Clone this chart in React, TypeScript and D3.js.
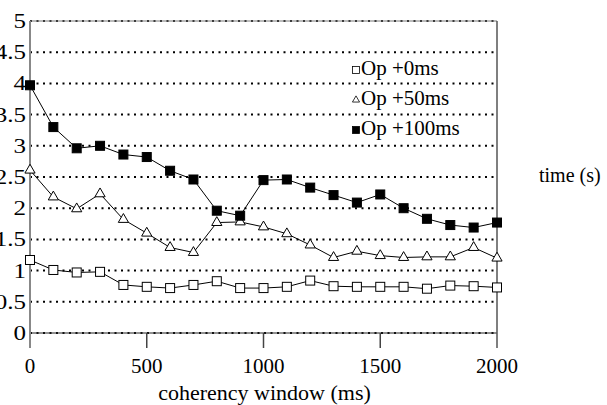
import { useEffect, useRef } from 'react';
import * as d3 from 'd3';

const W = 607
const H = 405
const margin = { top: 21, right: 110, bottom: 72, left: 30 }
const width = W - margin.left - margin.right
const height = H - margin.top - margin.bottom

const windows = d3.range(0, 2001, 100)
const op0 = [1.17, 1.01, 0.97, 0.98, 0.77, 0.74, 0.72, 0.77, 0.83, 0.72, 0.72, 0.74, 0.84, 0.75, 0.74, 0.74, 0.74, 0.71, 0.76, 0.75, 0.73]
const op50 = [2.61, 2.18, 1.99, 2.23, 1.82, 1.6, 1.37, 1.29, 1.77, 1.78, 1.7, 1.59, 1.41, 1.21, 1.31, 1.24, 1.21, 1.22, 1.22, 1.37, 1.2]
const op100 = [3.97, 3.3, 2.96, 3.0, 2.86, 2.82, 2.6, 2.46, 1.96, 1.88, 2.45, 2.46, 2.33, 2.21, 2.09, 2.22, 2.0, 1.83, 1.73, 1.69, 1.77]
const yTicks = [0, 0.5, 1, 1.5, 2, 2.5, 3, 3.5, 4, 4.5, 5]
const xTicks = [0, 500, 1000, 1500, 2000]
const legendLabels = ['Op +0ms', 'Op +50ms', 'Op +100ms']

const font = 'Liberation Serif, serif'

const App = () => {
  const ref = useRef(null)

  useEffect(() => {
    if (!ref.current) return
    const root = d3.select(ref.current)
    root.selectAll('*').remove()

    const x = d3.scaleLinear().domain([0, 2000]).range([0, width])
    const y = d3.scaleLinear().domain([0, 5]).range([height, 0])

    const svg = root.append('g')
      .attr('transform', `translate(${margin.left},${margin.top})`)
      .attr('font-family', font)

    // dotted gridlines
    svg.selectAll('.grid')
      .data(yTicks)
      .enter()
      .append('line')
      .attr('x1', 0)
      .attr('x2', width)
      .attr('y1', d => y(d))
      .attr('y2', d => y(d))
      .attr('stroke', '#000')
      .attr('stroke-width', 2)
      .attr('stroke-dasharray', '2 4.5')

    // top and bottom solid lines
    svg.append('line').attr('x1', 0).attr('x2', width).attr('y1', y(5)).attr('y2', y(5))
      .attr('stroke', '#777').attr('stroke-width', 1)
    svg.append('line').attr('x1', 0).attr('x2', width).attr('y1', y(0)).attr('y2', y(0))
      .attr('stroke', '#222').attr('stroke-width', 1)

    // left and right vertical lines
    svg.append('line').attr('x1', 0).attr('x2', 0).attr('y1', 0).attr('y2', height + 15)
      .attr('stroke', '#888').attr('stroke-width', 2)
    svg.append('line').attr('x1', width).attr('x2', width).attr('y1', 0).attr('y2', height + 15)
      .attr('stroke', '#555').attr('stroke-width', 1.5)

    // x ticks
    svg.selectAll('.xt')
      .data(xTicks.slice(1, -1))
      .enter()
      .append('line')
      .attr('x1', d => x(d))
      .attr('x2', d => x(d))
      .attr('y1', height)
      .attr('y2', height + 15)
      .attr('stroke', '#444')
      .attr('stroke-width', 1.5)

    svg.selectAll('.xl')
      .data(xTicks)
      .enter()
      .append('text')
      .attr('x', d => x(d))
      .attr('y', height + 40)
      .attr('text-anchor', 'middle')
      .attr('font-size', 21)
      .text(d => d)

    // y labels come out wider than tall in the original
    svg.selectAll('.yl')
      .data(yTicks)
      .enter()
      .append('text')
      .attr('transform', d => `translate(-4,${y(d) + 7}) scale(1.25,1)`)
      .attr('text-anchor', 'end')
      .attr('font-size', 20)
      .text(d => d)

    svg.append('text')
      .attr('x', width / 2 + 1)
      .attr('y', height + 67)
      .attr('text-anchor', 'middle')
      .attr('font-size', 22)
      .text('coherency window (ms)')

    svg.append('text')
      .attr('x', width + 42)
      .attr('y', 161)
      .attr('font-size', 20)
      .text('time (s)')

    const line = d3.line<number>()
      .x((_, i) => x(windows[i]))
      .y(d => y(d))

    const tri = d3.symbol().type(d3.symbolTriangle).size(45)

    const drawSeries = (vals: number[], kind: string) => {
      svg.append('path')
        .datum(vals)
        .attr('d', line)
        .attr('fill', 'none')
        .attr('stroke', '#000')
        .attr('stroke-width', 1)
      const g = svg.append('g')
      if (kind === 'tri') {
        g.selectAll('path')
          .data(vals)
          .enter()
          .append('path')
          .attr('d', tri)
          .attr('transform', (d, i) => `translate(${x(windows[i])},${y(d)})`)
          .attr('fill', '#fff')
          .attr('stroke', '#000')
          .attr('stroke-width', 1)
      } else {
        g.selectAll('rect')
          .data(vals)
          .enter()
          .append('rect')
          .attr('x', (_, i) => x(windows[i]) - 4.5)
          .attr('y', d => y(d) - 4.5)
          .attr('width', 9)
          .attr('height', 9)
          .attr('fill', kind === 'fill' ? '#000' : '#fff')
          .attr('stroke', '#000')
          .attr('stroke-width', 1)
      }
    }

    drawSeries(op0, 'open')
    drawSeries(op50, 'tri')
    drawSeries(op100, 'fill')

    // legend
    const lg = svg.append('g').attr('transform', `translate(${322},0)`)
    const kinds = ['open', 'tri', 'fill']
    legendLabels.forEach((lab, i) => {
      const cy = 49 + i * 30
      if (kinds[i] === 'tri') {
        lg.append('path')
          .attr('d', d3.symbol().type(d3.symbolTriangle).size(22)())
          .attr('transform', `translate(${4},${cy})`)
          .attr('fill', '#fff').attr('stroke', '#000').attr('stroke-width', 0.8)
      } else {
        lg.append('rect')
          .attr('x', 0.5).attr('y', cy - 3.5).attr('width', 7).attr('height', 7)
          .attr('fill', kinds[i] === 'fill' ? '#000' : '#fff')
          .attr('stroke', '#000').attr('stroke-width', 0.8)
      }
      lg.append('text')
        .attr('x', 9)
        .attr('y', cy + 5)
        .attr('font-size', 21)
        .text(lab)
    })
  }, [])

  return (
    <svg
      ref={ref}
      width={W}
      height={H}
      style={{ position: 'absolute', left: 0, top: 0, background: '#fff' }}
    ></svg>
  )
}

export default App;
